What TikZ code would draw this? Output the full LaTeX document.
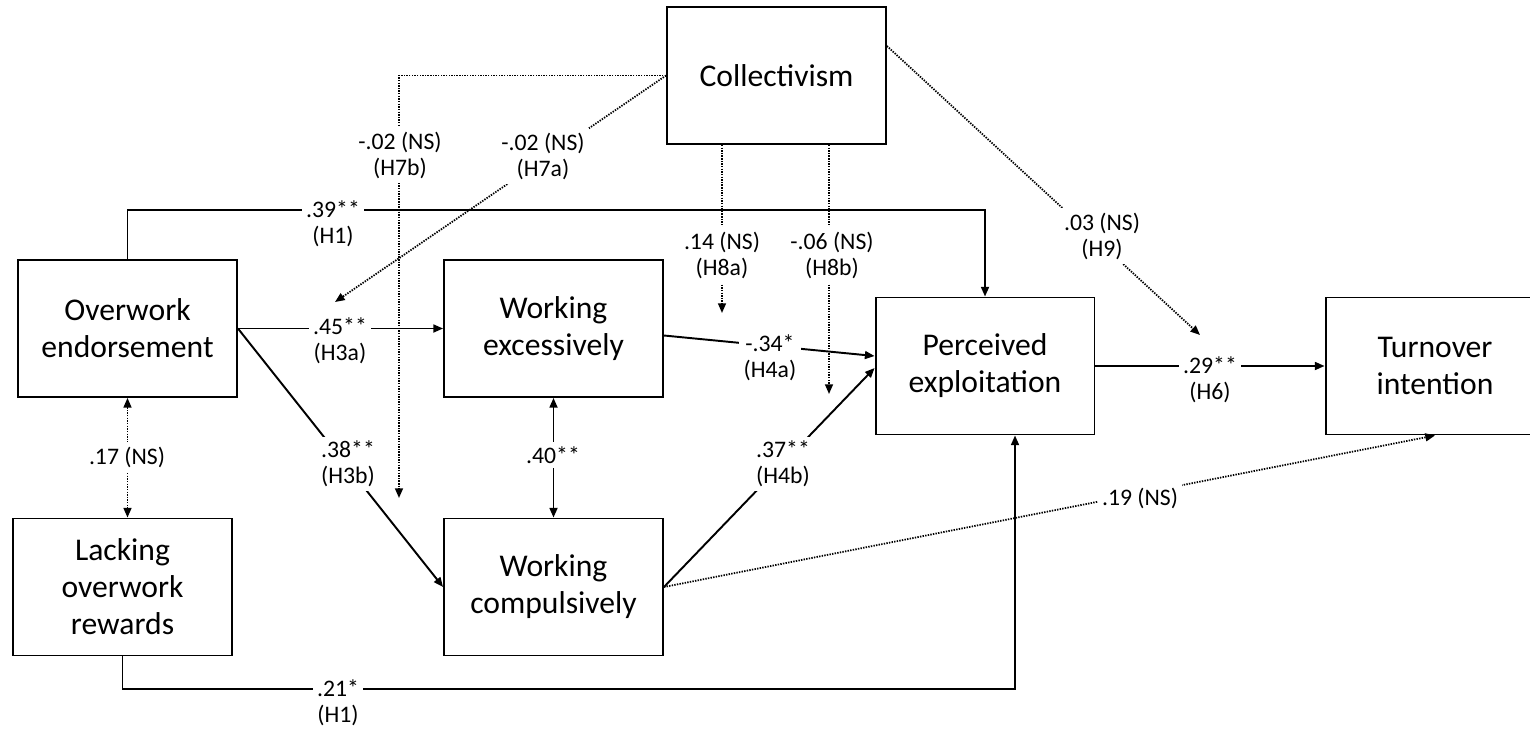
\documentclass[tikz,border=0pt]{standalone}
\usepackage{fontspec}
\setmainfont{Carlito}
\usetikzlibrary{arrows.meta,calc}

\begin{document}
\begin{tikzpicture}[x=0.02cm, y=-0.02cm, line width=1.1pt,
  var/.style={draw, minimum width=4.38cm, minimum height=2.74cm, align=center, font=\fontsize{18}{21}\selectfont},
  coef/.style={fill=white, inner sep=2.5pt, align=center, font=\fontsize{13.5}{14.8}\selectfont},
  effect/.style={-{Triangle[length=5.5pt,width=4.5pt]}},
  corr/.style={{Triangle[length=5.5pt,width=4.5pt]}-{Triangle[length=5.5pt,width=4.5pt]}},
  nsline/.style={line width=1pt, dash pattern=on 0.8pt off 0.7pt}]

\useasboundingbox (0,0) rectangle (1530,733);

\node[var] (coll) at (776.5,75.5) {Collectivism};
\node[var] (endo) at (127.5,328.5) {Overwork\\endorsement};
\node[var] (lack) at (122.5,587) {Lacking\\overwork\\rewards};
\node[var] (exces) at (553.5,328.5) {Working\\excessively};
\node[var] (compu) at (553.5,587) {Working\\compulsively};
\node[var] (explo) at (985,366) {Perceived\\exploitation};
\node[var] (turn) at (1435,366) {Turnover\\intention};

\coordinate (h7a) at (335,302);
\coordinate (h7b) at (399,498);
\coordinate (h8a) at (722,313);
\coordinate (h8b) at (829,394);
\coordinate (h9) at (1200,335);

\draw[effect] (endo.north) -- ++(0,-49) -| (explo.north);
\draw[effect] (lack.south) -- ++(0,33) -| ($(explo.south)+(30,0)$);
\draw[effect] (endo.east) -- (exces.west);
\draw[effect] (endo.east) -- (compu.west);
\draw[corr] (exces.south) -- (compu.north);
\draw[nsline, corr] (endo.south) -- (endo.south |- lack.north);
\draw[effect] ($(exces.east)+(0,7)$) -- ($(explo.west)+(0,-10)$);
\draw[effect] (compu.east) -- ($(explo.west)+(0,2)$);
\draw[nsline, effect] (compu.east) -- (turn.south);
\draw[effect] (explo.east) -- (turn.west);

\draw[nsline, effect] (coll.west) -| (h7b);
\draw[nsline, effect] (coll.west) -- (h7a);
\draw[nsline, effect] (coll.south -| h8a) -- (h8a);
\draw[nsline, effect] (coll.south -| h8b) -- (h8b);
\draw[nsline, effect] ($(coll.north east)+(0,40)$) -- (h9);

\node[coef] (l39) at (333,224) {.39**\\(H1)};
\node[coef] (l21) at (338,703) {.21*\\(H1)};
\node[coef] (l45) at (340,341) {.45**\\(H3a)};
\node[coef] (l38) at (348,464) {.38**\\(H3b)};
\node[coef] (l40) at (553,455) {.40**};
\node[coef] (l17) at (127,457) {.17 (NS)};
\node[coef] (l34) at (770,358) {-.34*\\(H4a)};
\node[coef] (l37) at (783,464) {.37**\\(H4b)};
\node[coef] (l19) at (1140,498) {.19 (NS)};
\node[coef] (l29) at (1210,380) {.29**\\(H6)};
\node[coef] (l7b) at (400,155) {-.02 (NS)\\(H7b)};
\node[coef] (l7a) at (543,156) {-.02 (NS)\\(H7a)};
\node[coef] (l8a) at (722,255) {.14 (NS)\\(H8a)};
\node[coef] (l8b) at (832,255) {-.06 (NS)\\(H8b)};
\node[coef] (l9) at (1102,236) {.03 (NS)\\(H9)};

\end{tikzpicture}
\end{document}
